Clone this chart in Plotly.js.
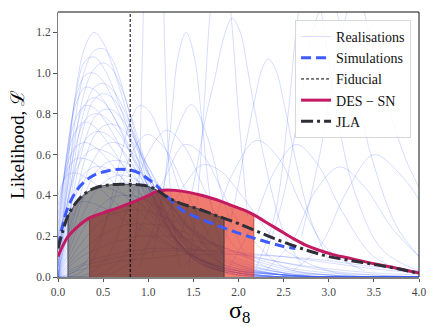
<!DOCTYPE html>
<html>
<head>
<meta charset="utf-8">
<script src="https://cdn.plot.ly/plotly-3.0.1.min.js"></script>
<style>
  html, body { margin: 0; padding: 0; background: #fff; }
  #plot { width: 436px; height: 327px; }
</style>
</head>
<body>
<div id="plot"></div>
<script>
// shared sigma_8 grid for the broad realisation curves
var realX = [0, 0.1, 0.2, 0.3, 0.4, 0.5, 0.6, 0.7, 0.8, 0.9, 1.0, 1.2, 1.4, 1.6, 1.8, 2.0, 2.5, 3.0, 3.5, 4.0];
var realY = [
    [0.02,0.50,0.92,1.13,1.20,1.15,1.04,0.90,0.75,0.60,0.46,0.26,0.13,0.06,0.03,0.01,0,0,0,0],
    [0.00,0.42,0.80,1.02,1.11,1.12,1.07,0.95,0.79,0.63,0.49,0.27,0.13,0.06,0.03,0.01,0,0,0,0],
    [0.05,0.55,0.90,1.06,1.08,1.03,0.94,0.82,0.69,0.56,0.44,0.25,0.13,0.06,0.03,0.01,0,0,0,0],
    [0.00,0.35,0.70,0.92,1.02,1.05,1.02,0.93,0.80,0.66,0.52,0.30,0.16,0.08,0.04,0.02,0,0,0,0],
    [0.10,0.60,0.88,0.99,1.00,0.96,0.88,0.78,0.67,0.55,0.44,0.26,0.14,0.07,0.03,0.01,0,0,0,0],
    [0.00,0.30,0.62,0.83,0.93,0.95,0.92,0.85,0.75,0.63,0.51,0.31,0.17,0.09,0.04,0.02,0,0,0,0],
    [0.15,0.62,0.85,0.93,0.92,0.87,0.80,0.71,0.61,0.51,0.41,0.25,0.14,0.07,0.03,0.02,0,0,0,0],
    [0.00,0.25,0.55,0.76,0.87,0.90,0.88,0.82,0.73,0.62,0.51,0.32,0.18,0.09,0.05,0.02,0,0,0,0],
    [0.05,0.45,0.72,0.85,0.88,0.86,0.80,0.72,0.63,0.53,0.44,0.28,0.16,0.08,0.04,0.02,0,0,0,0],
    [0.20,0.60,0.78,0.84,0.83,0.78,0.71,0.63,0.54,0.46,0.38,0.24,0.14,0.07,0.04,0.02,0,0,0,0],
    [0.00,0.22,0.48,0.67,0.78,0.82,0.82,0.78,0.71,0.63,0.54,0.37,0.23,0.13,0.07,0.04,0.01,0,0,0],
    [0.08,0.42,0.65,0.77,0.80,0.79,0.75,0.69,0.61,0.53,0.45,0.30,0.18,0.10,0.05,0.03,0.01,0,0,0],
    [0.25,0.58,0.72,0.76,0.74,0.69,0.63,0.56,0.49,0.42,0.35,0.23,0.14,0.08,0.04,0.02,0,0,0,0],
    [0.00,0.18,0.40,0.58,0.69,0.74,0.75,0.73,0.68,0.61,0.54,0.39,0.26,0.16,0.09,0.05,0.01,0,0,0],
    [0.05,0.35,0.56,0.67,0.71,0.71,0.68,0.63,0.57,0.50,0.43,0.30,0.19,0.11,0.06,0.03,0.01,0,0,0],
    [0.30,0.55,0.64,0.66,0.64,0.60,0.55,0.49,0.43,0.37,0.32,0.22,0.14,0.08,0.05,0.03,0.01,0,0,0],
    [0.00,0.15,0.33,0.48,0.58,0.64,0.66,0.65,0.62,0.57,0.51,0.39,0.27,0.17,0.10,0.06,0.01,0,0,0],
    [0.10,0.36,0.52,0.60,0.63,0.62,0.60,0.56,0.51,0.46,0.40,0.29,0.19,0.12,0.07,0.04,0.01,0,0,0],
    [0.35,0.52,0.58,0.58,0.56,0.52,0.47,0.42,0.37,0.32,0.28,0.20,0.13,0.08,0.05,0.03,0.01,0,0,0],
    [0.00,0.12,0.28,0.41,0.50,0.55,0.57,0.57,0.55,0.51,0.47,0.37,0.27,0.18,0.11,0.07,0.02,0,0,0],
    [0.05,0.28,0.43,0.51,0.54,0.54,0.52,0.49,0.45,0.41,0.37,0.28,0.20,0.13,0.08,0.05,0.01,0,0,0],
    [0.40,0.50,0.51,0.49,0.46,0.42,0.38,0.34,0.30,0.26,0.23,0.17,0.12,0.08,0.05,0.03,0.01,0,0,0],
    [0.00,0.10,0.22,0.33,0.41,0.46,0.49,0.50,0.49,0.47,0.44,0.37,0.28,0.20,0.13,0.08,0.02,0.01,0,0],
    [0.02,0.20,0.33,0.40,0.43,0.44,0.43,0.41,0.39,0.36,0.33,0.26,0.19,0.13,0.09,0.06,0.02,0,0,0],
    [0.00,0.08,0.17,0.25,0.31,0.36,0.39,0.40,0.40,0.39,0.37,0.32,0.26,0.19,0.14,0.09,0.03,0.01,0,0],
    [0.20,0.32,0.36,0.37,0.36,0.34,0.32,0.29,0.26,0.24,0.21,0.16,0.12,0.08,0.06,0.04,0.01,0,0,0],
    [0.00,0.06,0.13,0.19,0.24,0.28,0.31,0.32,0.33,0.33,0.32,0.29,0.25,0.20,0.15,0.11,0.04,0.01,0,0],
    [0.00,0.05,0.10,0.14,0.18,0.21,0.23,0.25,0.26,0.26,0.26,0.25,0.22,0.19,0.15,0.12,0.05,0.02,0.01,0],
    [0.00,0.04,0.08,0.11,0.13,0.15,0.17,0.18,0.19,0.20,0.20,0.20,0.19,0.17,0.15,0.12,0.07,0.03,0.01,0],
    [0.00,0.03,0.05,0.07,0.09,0.10,0.11,0.12,0.13,0.13,0.14,0.14,0.14,0.13,0.12,0.11,0.07,0.04,0.02,0.01],
    [0.00,0.02,0.04,0.06,0.07,0.08,0.09,0.10,0.11,0.11,0.12,0.13,0.13,0.13,0.13,0.12,0.10,0.07,0.04,0.02],
    [0.00,0.01,0.03,0.04,0.05,0.06,0.07,0.08,0.08,0.09,0.09,0.10,0.11,0.11,0.11,0.11,0.10,0.08,0.05,0.03],
    [0.00,0.00,0.01,0.04,0.10,0.22,0.40,0.60,0.76,0.84,0.82,0.62,0.36,0.17,0.07,0.03,0,0,0,0],
    [0.00,0.00,0.00,0.01,0.03,0.07,0.14,0.25,0.38,0.50,0.61,0.72,0.64,0.45,0.26,0.13,0.02,0,0,0],
    [0.00,0.01,0.03,0.07,0.14,0.24,0.36,0.48,0.59,0.67,0.70,0.62,0.44,0.26,0.13,0.06,0.01,0,0,0],
    [0.00,0.00,0.00,0.00,0.01,0.02,0.05,0.09,0.15,0.23,0.32,0.50,0.65,0.60,0.44,0.27,0.05,0.01,0,0],
    [0.00,0.00,0.00,0.00,0.00,0.01,0.02,0.04,0.07,0.11,0.16,0.30,0.45,0.55,0.52,0.42,0.14,0.03,0,0]
];

// narrower realisations, each with its own sigma_8 samples
var narrowX = [
    [0.80, 0.88, 0.93, 0.98, 1.06, 1.14, 1.19, 1.25, 1.35],
    [1.05, 1.15, 1.25, 1.33, 1.42, 1.51, 1.60, 1.70, 1.85],
    [0.90, 1.10, 1.30, 1.48, 1.66, 1.85, 2.10],
    [1.30, 1.50, 1.63, 1.74, 1.84, 1.93, 2.02, 2.10, 2.18, 2.30, 2.50, 2.70],
    [1.80, 1.95, 2.08, 2.18, 2.26, 2.33, 2.41, 2.51, 2.62, 2.80, 3.00],
    [1.45, 1.55, 1.62, 1.70, 1.80, 1.90, 2.00, 2.10],
    [2.20, 2.40, 2.55, 2.65, 2.75, 2.85, 2.95, 3.10, 3.30, 3.60, 4.00],
    [2.70, 2.90, 3.10, 3.30, 3.50, 3.70, 3.85, 4.00],
    [1.40, 1.70, 1.95, 2.20, 2.45, 2.70, 3.00, 3.40],
    [1.90, 2.15, 2.40, 2.64, 2.88, 3.15, 3.50, 3.90],
    [2.30, 2.60, 2.85, 3.12, 3.40, 3.70, 4.00],
    [2.60, 2.90, 3.20, 3.50, 3.80, 4.00],
    [2.30, 2.50, 2.70, 2.85, 3.00, 3.15, 3.30, 3.50, 3.75, 4.00]
];
var narrowY = [
    [0.00, 0.30, 1.00, 1.80, 2.20, 1.80, 1.00, 0.40, 0.05],
    [0.10, 0.35, 0.75, 1.08, 1.20, 1.08, 0.74, 0.35, 0.08],
    [0.05, 0.30, 0.70, 0.845, 0.68, 0.35, 0.08],
    [0.10, 0.45, 0.77, 0.98, 1.18, 1.27, 1.20, 1.02, 0.82, 0.55, 0.22, 0.06],
    [0.10, 0.35, 0.65, 0.87, 1.02, 1.07, 1.02, 0.84, 0.60, 0.28, 0.08],
    [0.05, 0.40, 0.85, 1.35, 1.60, 1.35, 0.80, 0.30],
    [0.05, 0.30, 0.80, 1.25, 1.50, 1.45, 1.20, 0.77, 0.40, 0.13, 0.03],
    [0.20, 0.60, 1.10, 1.40, 1.10, 0.78, 0.58, 0.44],
    [0.05, 0.25, 0.52, 0.67, 0.58, 0.35, 0.13, 0.03],
    [0.05, 0.25, 0.52, 0.65, 0.55, 0.32, 0.10, 0.02],
    [0.03, 0.18, 0.42, 0.54, 0.44, 0.24, 0.10],
    [0.03, 0.15, 0.42, 0.60, 0.50, 0.38],
    [0.10, 0.40, 0.90, 1.25, 1.38, 1.20, 0.90, 0.55, 0.25, 0.10]
];

var simX = [0, 0.05, 0.1, 0.2, 0.3, 0.4, 0.5, 0.6, 0.7, 0.8, 0.9, 1.0, 1.1, 1.2, 1.3, 1.4, 1.5, 1.75, 2.0, 2.25, 2.5, 2.63];
var simY = [0.15, 0.25, 0.33, 0.42, 0.47, 0.50, 0.515, 0.525, 0.528, 0.525, 0.51, 0.48, 0.445, 0.40, 0.355, 0.32, 0.30, 0.255, 0.215, 0.18, 0.15, 0.14];

var jlaX = [0, 0.05, 0.11, 0.2, 0.3, 0.4, 0.5, 0.6, 0.7, 0.8, 0.9, 1.0, 1.1, 1.2, 1.3, 1.4, 1.55, 1.7, 1.84, 2.0, 2.2, 2.4, 2.6, 2.8, 3.0, 3.25, 3.5, 3.75, 4.0];
var jlaY = [0.14, 0.22, 0.30, 0.365, 0.41, 0.435, 0.448, 0.453, 0.455, 0.455, 0.452, 0.445, 0.425, 0.395, 0.372, 0.355, 0.335, 0.31, 0.288, 0.262, 0.225, 0.188, 0.155, 0.125, 0.10, 0.08, 0.062, 0.042, 0.018];

var desX = [0, 0.05, 0.11, 0.2, 0.35, 0.5, 0.65, 0.8, 0.95, 1.1, 1.2, 1.3, 1.45, 1.6, 1.75, 1.9, 2.05, 2.17, 2.3, 2.45, 2.6, 2.75, 2.9, 3.05, 3.25, 3.5, 3.75, 4.0];
var desY = [0.10, 0.15, 0.198, 0.24, 0.29, 0.315, 0.337, 0.362, 0.39, 0.42, 0.427, 0.425, 0.415, 0.40, 0.38, 0.355, 0.33, 0.305, 0.27, 0.23, 0.19, 0.155, 0.13, 0.11, 0.09, 0.065, 0.043, 0.02];

var fiducial = 0.8;
var jlaBand = [0.11, 1.84];
var desBand = [0.35, 2.17];

var realColor = 'rgba(60,95,255,0.21)';

function realTrace(x, y, first) {
    return {
        x: x, y: y, mode: 'lines', name: 'Realisations',
        showlegend: first, hoverinfo: 'skip',
        line: {color: realColor, width: 1, shape: 'spline', smoothing: 1}
    };
}

// closed polygon under a curve between two sigma_8 limits
function band(xs, ys, lim, fill, edge) {
    var px = [], py = [];
    xs.forEach(function (x, i) {
        if (x >= lim[0] && x <= lim[1]) { px.push(x); py.push(ys[i]); }
    });
    px.unshift(lim[0]); py.unshift(0);
    px.push(lim[1]); py.push(0);
    return {
        x: px, y: py, mode: 'lines', fill: 'toself', fillcolor: fill,
        line: {color: edge, width: 1}, showlegend: false, hoverinfo: 'skip'
    };
}

var data = [];
realY.forEach(function (y, i) { data.push(realTrace(realX, y, i === 0)); });
narrowY.forEach(function (y, i) { data.push(realTrace(narrowX[i], y, false)); });

data.push(band(desX, desY, desBand, 'rgba(232,50,30,0.64)', 'rgba(190,60,40,0.8)'));
data.push(band(jlaX, jlaY, jlaBand, 'rgba(40,40,40,0.5)', 'rgba(50,50,50,0.8)'));

data.push({
    x: simX, y: simY, mode: 'lines', name: 'Simulations',
    line: {color: 'rgb(60,90,255)', width: 3, dash: '10px,5px', shape: 'spline'}
});
data.push({
    x: [fiducial, fiducial], y: [0, 1.3], mode: 'lines', name: 'Fiducial',
    line: {color: '#000', width: 1, dash: '3px,2px'}
});
data.push({
    x: desX, y: desY, mode: 'lines', name: 'DES \u2212 SN',
    line: {color: '#c41a62', width: 3, shape: 'spline'}
});
data.push({
    x: jlaX, y: jlaY, mode: 'lines', name: 'JLA',
    line: {color: '#2e2e36', width: 3, dash: '12px,4px,3px,4px', shape: 'spline'}
});

var serif = 'Liberation Serif, DejaVu Serif, serif';

var layout = {
    width: 436, height: 327,
    margin: {l: 58, r: 17, t: 12, b: 50},
    paper_bgcolor: '#fff', plot_bgcolor: '#fff',
    font: {family: serif, color: '#000'},
    showlegend: true,
    legend: {
        x: 0.978, xanchor: 'right', y: 0.97, yanchor: 'top',
        bgcolor: 'rgba(255,255,255,0.85)', bordercolor: '#d8d8d8', borderwidth: 1,
        font: {family: serif, size: 14, color: '#111'}, itemwidth: 30, tracegroupgap: 0
    },
    xaxis: {
        range: [0, 4], dtick: 0.5, tickformat: '.1f',
        ticks: 'outside', ticklen: 3.5, tickcolor: '#555',
        tickfont: {family: serif, size: 11.5, color: '#444'},
        showgrid: false, zeroline: false,
        showline: true, linecolor: '#808080', linewidth: 1.5
    },
    yaxis: {
        range: [0, 1.3], dtick: 0.2, tickformat: '.1f',
        ticks: 'outside', ticklen: 3.5, tickcolor: '#555',
        tickfont: {family: serif, size: 11.5, color: '#444'},
        showgrid: false, zeroline: false,
        showline: true, linecolor: '#808080', linewidth: 1.5,
        title: {text: 'Likelihood, \u2112', font: {family: serif, size: 19}, standoff: 6}
    },
    annotations: [
        {text: '\u03c3<sub>8</sub>', xref: 'paper', yref: 'paper', x: 0.502, y: -0.072,
         xanchor: 'center', yanchor: 'top', showarrow: false, borderpad: 0,
         font: {family: serif, size: 24, color: '#000'}}
    ],
    shapes: [
        {type: 'line', xref: 'paper', yref: 'paper', x0: 0, x1: 1, y0: 1, y1: 1, line: {color: '#111', width: 1}},
        {type: 'line', xref: 'paper', yref: 'paper', x0: 1, x1: 1, y0: 0, y1: 1, line: {color: '#111', width: 1}}
    ]
};

Plotly.newPlot('plot', data, layout, {displayModeBar: false, staticPlot: true});
</script>
</body>
</html>
